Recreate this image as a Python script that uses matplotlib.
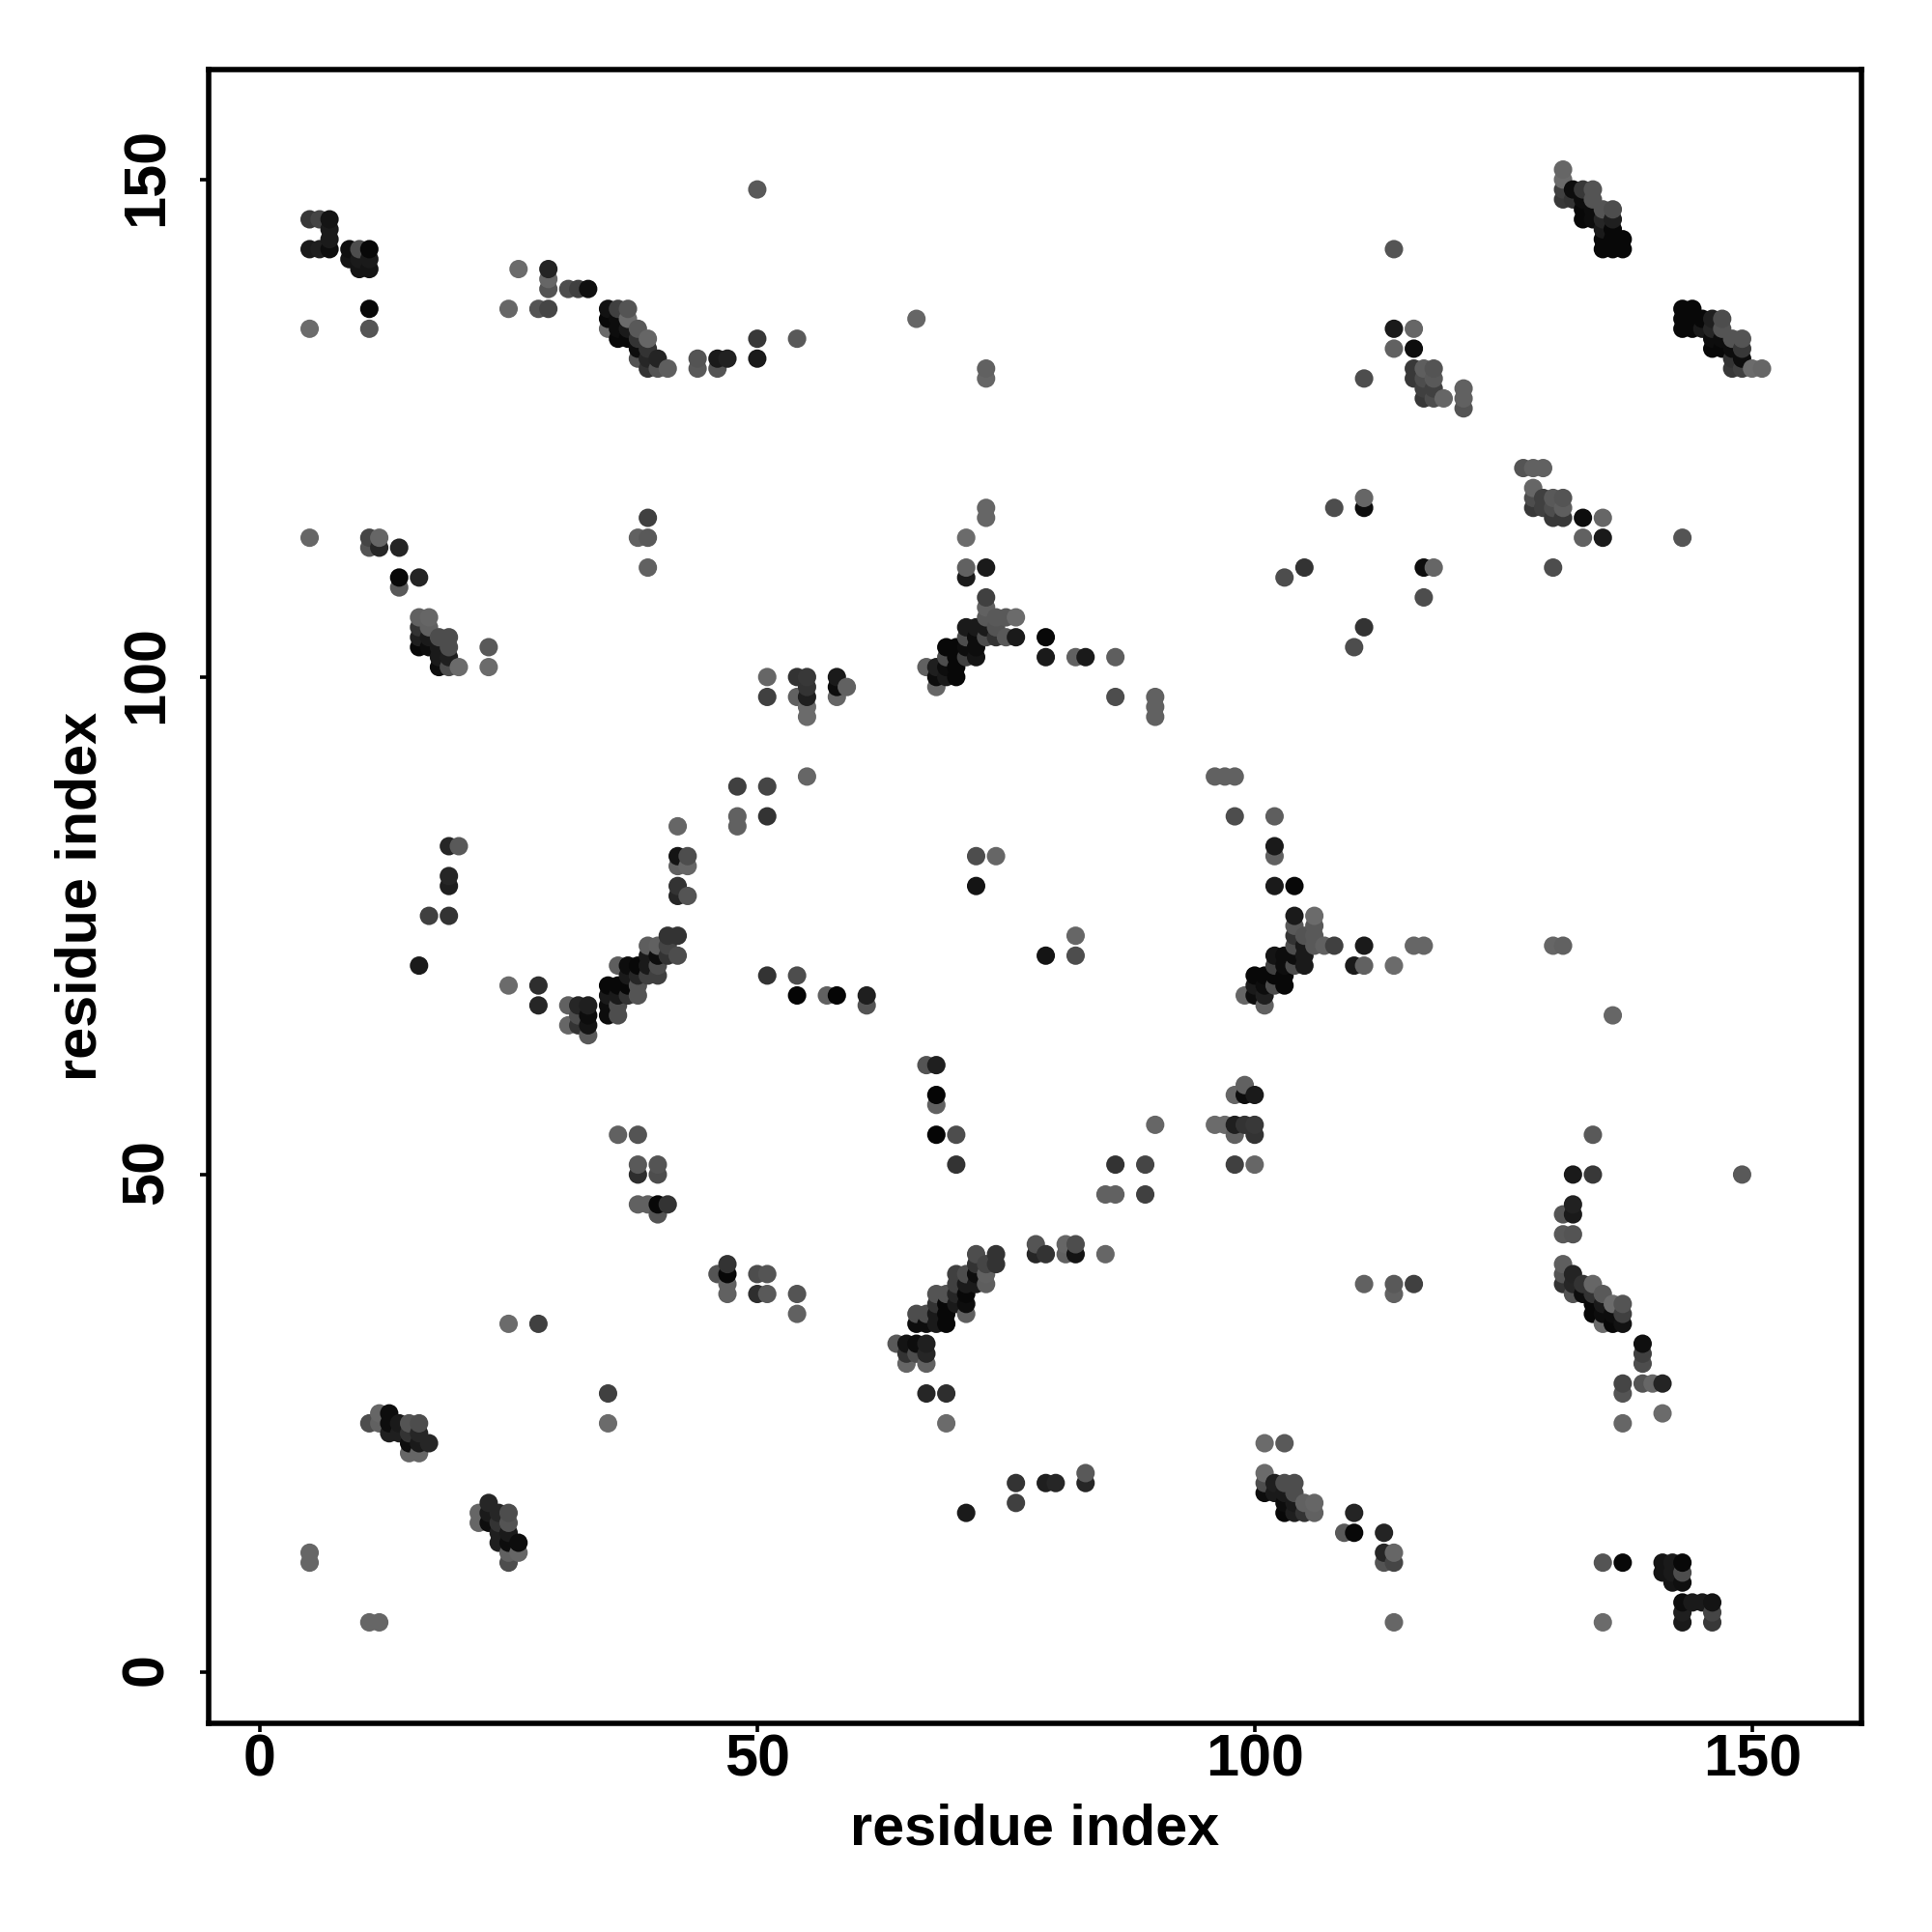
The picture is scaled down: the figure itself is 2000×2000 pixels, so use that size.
import numpy as np
import matplotlib
matplotlib.use("Agg")
import matplotlib.pyplot as plt
from matplotlib.transforms import ScaledTranslation

plt.rcParams['font.family'] = ['Liberation Sans', 'DejaVu Sans']
plt.rcParams['font.weight'] = 'bold'

# === Contacts, upper triangle only (i < j), the map is symmetric ===
# same line layout in all three lists
contact_i = [
    5, 6, 7, 7, 7, 5, 6, 7,
    9, 10, 11, 9, 10, 11, 10, 11, 11, 11, 5,
    26, 29, 29, 29, 31, 32, 33, 25, 28, 29,
    35, 36, 37, 35, 36, 37, 35, 36, 37, 38, 36,
    37, 38, 39, 38, 39, 38, 39, 40, 39, 40, 41,
    44, 44, 46, 47, 46, 50, 50, 54, 66, 73, 73, 50, 114,
    114, 116, 114, 116, 111, 116, 117, 118, 116, 117,
    118, 117, 118, 117, 118, 119, 121, 121, 121,
    131, 131, 131, 131, 132, 132, 133, 134, 134, 133,
    133, 133, 134, 134, 135, 136, 135, 136, 135, 136,
    135, 136, 137, 135, 136, 137,
    11, 12, 11, 12, 14, 14, 16, 14,
    16, 17, 16, 17, 16, 16, 17, 17, 18, 19, 18, 19,
    18, 19, 18, 19, 20, 23, 23,
    73, 73, 71, 71, 71, 73,
    73, 73, 73, 74, 75, 76, 71, 72, 73, 74, 72, 71, 73, 74, 75, 76,
    79, 79, 82, 83, 86,
    69, 70, 71, 72, 69, 70, 71, 72, 67, 68, 69, 70, 68, 69, 70, 68,
    86, 90, 90, 90,
    51, 55, 51, 48, 48, 48, 72, 74, 72,
    51, 54, 54, 57, 58, 61, 61,
    42, 42, 43, 42, 43, 42, 42, 43,
    25, 28, 28, 31, 32, 33, 31, 32, 32, 33, 33, 33,
    35, 36, 37, 38, 35, 36, 37, 38, 35, 35, 36, 36,
    36, 37, 38, 39, 37, 38, 39, 40, 39, 40, 39, 40, 40,
    41, 42, 41, 41, 42,
    36, 38, 38, 40, 38, 40, 38, 39, 40, 41, 40,
    25, 28,
    59, 58, 58, 58, 55, 55, 55, 55, 55, 54, 54, 51, 51,
    11, 12, 12, 13, 13, 13, 14, 14, 15, 16, 15, 16, 15, 16, 17, 15, 16,
    5, 5, 5, 39, 39, 38, 39, 19, 20, 19, 19, 17, 19, 16,
    103, 105, 108, 111, 111,
]
contact_j = [
    146, 146, 146, 145, 144, 143, 143, 143,
    143, 143, 143, 142, 142, 142, 141, 141, 137, 135, 135,
    141, 141, 140, 139, 139, 139, 139, 137, 137, 137,
    137, 137, 137, 136, 136, 136, 135, 135, 135, 135, 134,
    134, 134, 134, 133, 133, 132, 132, 132, 131, 131, 131,
    132, 131, 132, 132, 131, 134, 132, 134, 136, 131, 130, 149, 143,
    135, 135, 133, 133, 130, 131, 131, 131, 130, 130,
    130, 129, 129, 128, 128, 128, 129, 128, 127,
    151, 150, 149, 148, 149, 148, 149, 149, 148, 148,
    147, 146, 147, 146, 147, 147, 146, 146, 145, 145,
    144, 144, 144, 143, 143, 143,
    114, 114, 113, 113, 113, 110, 110, 109,
    106, 106, 105, 105, 104, 103, 104, 103, 104, 104, 103, 103,
    102, 102, 101, 101, 101, 103, 101,
    117, 116, 114, 111, 110, 111,
    108, 107, 106, 106, 106, 106, 105, 105, 105, 105, 104, 104, 104, 104, 104, 104,
    104, 102, 102, 102, 102,
    103, 103, 103, 103, 102, 102, 102, 102, 101, 101, 101, 101, 100, 100, 100, 99,
    98, 98, 97, 96,
    89, 90, 86, 89, 86, 85, 79, 82, 82,
    70, 70, 68, 68, 68, 68, 67,
    85, 82, 82, 81, 81, 79, 78, 78,
    69, 69, 67, 67, 67, 67, 65, 65, 66, 66, 65, 64,
    69, 69, 69, 69, 68, 68, 68, 68, 67, 66, 67, 66,
    71, 71, 71, 71, 70, 70, 70, 70, 73, 73, 72, 72, 71,
    74, 74, 73, 72, 72,
    54, 54, 51, 51, 50, 50, 47, 47, 47, 47, 46,
    35, 35,
    99, 98, 99, 100, 96, 97, 98, 99, 100, 98, 100, 98, 100,
    25, 26, 25, 26, 25, 24, 24, 25, 25, 25, 24, 24, 23, 23, 23, 22, 22,
    12, 11, 114, 116, 114, 114, 111, 83, 83, 80, 79, 76, 76, 71,
    110, 111, 117, 117, 118,
]
contact_shade = [
    .22, .27, .08, .10, .10, .10, .12, .05,
    .06, .30, .03, .08, .10, .10, .08, .08, .03, .33, .42,
    .42, .14, .40, .33, .30, .25, .06, .40, .33, .27,
    .07, .25, .33, .03, .05, .42, .42, .05, .10, .35, .03,
    .03, .20, .40, .05, .20, .33, .15, .14, .20, .33, .37,
    .33, .35, .10, .13, .33, .22, .10, .35, .40, .38, .40, .35, .33,
    .10, .40, .38, .05, .30, .22, .37, .33, .22, .30,
    .35, .25, .25, .22, .30, .40, .38, .38, .33,
    .40, .42, .25, .22, .05, .20, .22, .33, .33, .05,
    .03, .03, .05, .05, .33, .30, .15, .12, .10, .03,
    .03, .03, .03, .03, .03, .03,
    .27, .40, .33, .15, .14, .03, .14, .35,
    .38, .40, .20, .38, .12, .03, .10, .05, .30, .30, .10, .30,
    .10, .12, .05, .30, .42, .35, .42,
    .40, .40, .42, .38, .10, .10,
    .25, .38, .35, .35, .35, .42, .10, .10, .10, .33, .05, .30, .30, .20, .35, .10,
    .03, .10, .38, .10, .37,
    .03, .03, .05, .05, .30, .03, .25, .08, .38, .12, .05, .03, .05, .10, .03, .40,
    .30, .38, .38, .38,
    .27, .40, .20, .25, .38, .38, .08, .40, .30,
    .20, .30, .02, .38, .02, .12, .33,
    .40, .08, .30, .38, .40, .20, .15, .33,
    .42, .18, .15, .38, .15, .12, .40, .20, .30, .05, .08, .35,
    .03, .03, .03, .33, .10, .10, .20, .33, .05, .05, .30, .30,
    .37, .05, .03, .10, .10, .15, .25, .25, .37, .38, .10, .05, .30,
    .20, .20, .27, .20, .30,
    .38, .33, .35, .33, .18, .30, .38, .38, .03, .20, .33,
    .42, .25,
    .38, .40, .05, .10, .42, .42, .12, .20, .22, .38, .20, .25, .40,
    .30, .40, .38, .05, .05, .12, .12, .10, .33, .30, .20, .15, .05, .10, .15, .40, .40,
    .40, .40, .40, .25, .35, .38, .38, .15, .35, .15, .12, .25, .20, .10,
    .30, .20, .30, .05, .40,
]

ticks = [0, 50, 100, 150]

# mirror across the diagonal, points drawn in order of x then y
x = np.array(contact_i + contact_j)
y = np.array(contact_j + contact_i)
shade = np.array(contact_shade + contact_shade)
order = np.lexsort((y, x))

fig = plt.figure(figsize=(10, 10), dpi=200)
ax = fig.add_axes([0.108, 0.108, 0.8555, 0.856])

ax.scatter(x[order], y[order], s=47, c=[str(s) for s in shade[order]], linewidths=0, zorder=3)

ax.set_xlim(-5.15, 161)
ax.set_ylim(-5.15, 161.05)
ax.set_xticks(ticks)
ax.set_yticks(ticks)
ax.tick_params(axis='x', length=3.2, width=1.3, labelsize=22, pad=0.7)
ax.tick_params(axis='y', length=3.2, width=1.3, labelsize=22, pad=9.3)
nudge = ScaledTranslation(0, 0.0125, fig.dpi_scale_trans)
for lab in ax.get_yticklabels():
    lab.set_rotation(90)
    lab.set_va('center')
    lab.set_transform(lab.get_transform() + nudge)
for side in ax.spines.values():
    side.set_linewidth(2.0)

ax.set_xlabel("residue index", fontsize=21.4, fontweight='bold', labelpad=5.4)
ax.set_ylabel("residue index", fontsize=21.4, fontweight='bold', labelpad=4.6)

fig.savefig("out.png", dpi=200)
